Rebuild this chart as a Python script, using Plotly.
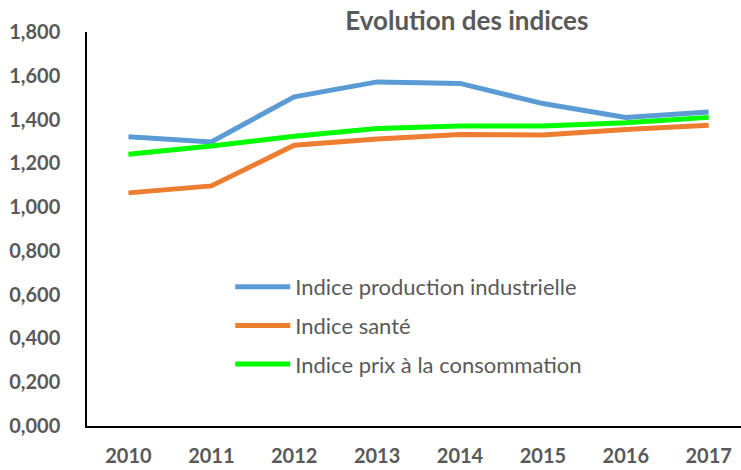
import plotly.graph_objects as go

years = ["2010", "2011", "2012", "2013", "2014", "2015", "2016", "2017"]
prod_industrielle = [1.321, 1.298, 1.504, 1.572, 1.565, 1.473, 1.410, 1.435]
sante = [1.065, 1.097, 1.283, 1.311, 1.332, 1.329, 1.355, 1.374]
prix_conso = [1.241, 1.279, 1.324, 1.359, 1.371, 1.371, 1.385, 1.410]

names = ["Indice production industrielle", "Indice santé", "Indice prix à la consommation"]
colors = ["#5B9BD5", "#ED7D31", "#00FF00"]
series = [prod_industrielle, sante, prix_conso]

FONT = "Lato"
GRAY = "#595959"

fig = go.Figure()
for i, (n, c, s) in enumerate(zip(names, colors, series)):
    fig.add_trace(go.Scatter(x=years, y=s, name=n, mode="lines",
                             line=dict(color=c, width=5), legendgroup=f"g{i}"))

fig.update_layout(
    width=741, height=470,
    margin=dict(l=87, r=0, t=32, b=44),
    paper_bgcolor="white", plot_bgcolor="white",
    separators=", ",
    title=dict(text="<b>Evolution des indices</b>", x=0.630, xanchor="center",
               y=1 - 21 / 470, yanchor="middle", xref="container", yref="container",
               font=dict(family=FONT, size=26, color=GRAY)),
    font=dict(family=FONT, color=GRAY),
    showlegend=True,
    legend=dict(x=0.219, y=0.406, xanchor="left", yanchor="top",
                font=dict(family=FONT, size=22, color=GRAY),
                bgcolor="rgba(0,0,0,0)", tracegroupgap=7, itemwidth=55),
    xaxis=dict(type="category", range=[-0.5, 7.39], showgrid=False,
               showline=True, linecolor="black", linewidth=1.5, ticks="",
               tickfont=dict(family=FONT, size=20, color=GRAY, weight="bold"),
               ticklabelstandoff=11, fixedrange=True),
    yaxis=dict(range=[0, 1.8], dtick=0.2, tickformat=".3f", showgrid=False,
               zeroline=False, showline=True, linecolor="black", linewidth=1.5,
               ticks="", tickfont=dict(family=FONT, size=20, color=GRAY, weight="bold"),
               ticklabelstandoff=21, fixedrange=True),
)

fig.write_html("out.html", config={"displayModeBar": False},
               post_script="document.body.style.margin='0px';document.body.style.overflow='hidden';")
